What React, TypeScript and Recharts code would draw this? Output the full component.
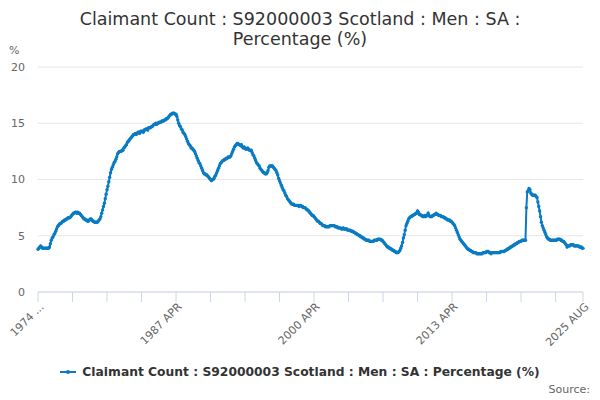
import React from 'react';
import { LineChart, Line, XAxis, YAxis, CartesianGrid } from 'recharts';

// Claimant Count, Scotland, Men, SA, % — monthly, 1974 APR .. 2025 AUG
const START_YEAR = 1974;
const START_MONTH = 3; // APR
const MONTHS = ['JAN', 'FEB', 'MAR', 'APR', 'MAY', 'JUN', 'JUL', 'AUG', 'SEP', 'OCT', 'NOV', 'DEC'];

const values1970s = [
  3.8, 3.9, 4.0, 4.1, 4.0, 3.9, 3.9, 3.9, 3.9, // 1974 APR-DEC
  3.9, 3.9, 3.9, 3.9, 4.0, 4.3, 4.6, 4.8, 4.9, 5.1, 5.2, 5.4, // 1975
  5.6, 5.8, 5.9, 6.0, 6.1, 6.1, 6.2, 6.3, 6.3, 6.4, 6.4, 6.5, // 1976
  6.5, 6.6, 6.6, 6.6, 6.7, 6.8, 6.9, 7.0, 7.0, 7.1, 7.1, 7.0, // 1977
  7.1, 7.0, 7.0, 6.9, 6.8, 6.7, 6.6, 6.5, 6.5, 6.4, 6.4, 6.3, // 1978
  6.3, 6.4, 6.5, 6.5, 6.4, 6.3, 6.3, 6.2, 6.2, 6.2, 6.2, 6.3, // 1979
];

const values1980s = [
  6.4, 6.5, 6.7, 7.0, 7.3, 7.6, 7.9, 8.3, 8.7, 9.1, 9.4, 9.8, // 1980
  10.2, 10.6, 10.9, 11.1, 11.3, 11.5, 11.6, 11.8, 12.0, 12.3, 12.4, 12.5, // 1981
  12.5, 12.5, 12.6, 12.6, 12.8, 12.9, 13.0, 13.1, 13.3, 13.4, 13.5, 13.6, // 1982
  13.7, 13.8, 13.9, 14.0, 14.0, 14.1, 14.0, 14.1, 14.2, 14.2, 14.1, 14.3, // 1983
  14.3, 14.3, 14.2, 14.4, 14.4, 14.5, 14.5, 14.4, 14.6, 14.6, 14.6, 14.7, // 1984
  14.7, 14.8, 14.9, 14.9, 15.0, 14.9, 15.0, 15.0, 15.1, 15.1, 15.1, 15.2, // 1985
  15.2, 15.2, 15.3, 15.3, 15.4, 15.4, 15.5, 15.6, 15.7, 15.8, 15.8, 15.9, // 1986
  15.9, 15.9, 15.8, 15.8, 15.6, 15.3, 15.0, 14.8, 14.7, 14.5, 14.4, 14.2, // 1987
  14.1, 14.0, 13.8, 13.6, 13.4, 13.2, 13.1, 13.0, 12.8, 12.8, 12.7, 12.6, // 1988
  12.5, 12.3, 12.1, 11.9, 11.7, 11.5, 11.4, 11.2, 11.0, 10.8, 10.6, 10.5, // 1989
];

const values1990s = [
  10.5, 10.4, 10.4, 10.3, 10.2, 10.1, 10.0, 9.9, 10.0, 10.0, 10.1, 10.3, // 1990
  10.4, 10.6, 10.8, 11.0, 11.2, 11.4, 11.5, 11.6, 11.7, 11.7, 11.8, 11.8, // 1991
  11.9, 11.9, 12.0, 12.0, 12.0, 12.1, 12.3, 12.5, 12.7, 12.9, 13.0, 13.1, // 1992
  13.2, 13.2, 13.1, 13.1, 13.0, 13.1, 12.9, 12.8, 12.9, 12.8, 12.7, 12.7, // 1993
  12.8, 12.7, 12.6, 12.6, 12.6, 12.4, 12.2, 12.1, 11.9, 11.7, 11.5, 11.4, // 1994
  11.3, 11.2, 11.0, 10.9, 10.8, 10.7, 10.6, 10.6, 10.5, 10.5, 10.6, 10.8, // 1995
  11.1, 11.2, 11.2, 11.2, 11.2, 11.1, 11.0, 10.9, 10.8, 10.6, 10.4, 10.1, // 1996
  9.9, 9.7, 9.5, 9.3, 9.1, 9.0, 8.8, 8.6, 8.5, 8.3, 8.2, 8.1, // 1997
  8.0, 7.9, 7.8, 7.8, 7.8, 7.7, 7.7, 7.7, 7.7, 7.7, 7.6, 7.7, // 1998
  7.7, 7.6, 7.6, 7.5, 7.5, 7.5, 7.4, 7.3, 7.3, 7.2, 7.1, 7.0, // 1999
];

const values2000s = [
  6.9, 6.8, 6.8, 6.7, 6.6, 6.5, 6.4, 6.3, 6.3, 6.2, 6.1, 6.1, // 2000
  6.0, 5.9, 5.9, 5.9, 5.8, 5.8, 5.8, 5.8, 5.8, 5.9, 5.9, 5.9, // 2001
  5.9, 5.9, 5.9, 5.8, 5.8, 5.8, 5.7, 5.7, 5.7, 5.7, 5.6, 5.6, // 2002
  5.7, 5.6, 5.6, 5.6, 5.6, 5.5, 5.5, 5.5, 5.5, 5.4, 5.4, 5.4, // 2003
  5.3, 5.3, 5.2, 5.2, 5.1, 5.1, 5.0, 5.0, 4.9, 4.9, 4.8, 4.8, // 2004
  4.7, 4.7, 4.6, 4.6, 4.6, 4.6, 4.5, 4.5, 4.5, 4.5, 4.5, 4.6, // 2005
  4.6, 4.6, 4.6, 4.7, 4.7, 4.7, 4.7, 4.6, 4.6, 4.5, 4.4, 4.3, // 2006
  4.2, 4.1, 4.0, 4.0, 3.9, 3.9, 3.8, 3.8, 3.7, 3.7, 3.6, 3.6, // 2007
  3.5, 3.5, 3.5, 3.6, 3.7, 3.9, 4.1, 4.4, 4.8, 5.1, 5.5, 5.9, // 2008
  6.1, 6.3, 6.5, 6.6, 6.7, 6.7, 6.8, 6.8, 6.9, 6.9, 7.0, 7.0, // 2009
];

const values2010s = [
  7.2, 7.1, 6.9, 6.9, 6.8, 6.8, 6.7, 6.7, 6.8, 6.7, 6.8, 6.8, // 2010
  7.0, 6.8, 6.7, 6.7, 6.7, 6.8, 6.8, 6.9, 6.9, 7.0, 6.9, 6.9, // 2011
  6.8, 6.8, 6.8, 6.7, 6.7, 6.7, 6.6, 6.6, 6.5, 6.5, 6.4, 6.4, // 2012
  6.4, 6.3, 6.3, 6.2, 6.1, 6.0, 5.9, 5.7, 5.5, 5.3, 5.1, 4.9, // 2013
  4.7, 4.6, 4.5, 4.4, 4.3, 4.2, 4.1, 4.0, 3.9, 3.8, 3.8, 3.7, // 2014
  3.7, 3.6, 3.6, 3.5, 3.5, 3.5, 3.5, 3.4, 3.4, 3.4, 3.4, 3.4, // 2015
  3.4, 3.4, 3.5, 3.5, 3.5, 3.5, 3.6, 3.6, 3.6, 3.5, 3.5, 3.4, // 2016
  3.5, 3.5, 3.5, 3.5, 3.5, 3.5, 3.5, 3.5, 3.5, 3.5, 3.6, 3.6, // 2017
  3.6, 3.6, 3.6, 3.7, 3.7, 3.8, 3.8, 3.9, 3.9, 4.0, 4.0, 4.1, // 2018
  4.1, 4.2, 4.2, 4.3, 4.3, 4.4, 4.4, 4.5, 4.5, 4.5, 4.6, 4.6, // 2019
];

const values2020s = [
  4.6, 4.6, 4.6, 7.5, 8.9, 9.0, 9.2, 9.1, 8.8, 8.7, 8.6, 8.6, // 2020
  8.6, 8.6, 8.5, 8.4, 8.0, 7.6, 7.2, 6.7, 6.2, 5.9, 5.7, 5.5, // 2021
  5.3, 5.1, 4.9, 4.8, 4.7, 4.7, 4.6, 4.6, 4.6, 4.6, 4.6, 4.6, // 2022
  4.6, 4.6, 4.7, 4.7, 4.7, 4.7, 4.6, 4.6, 4.5, 4.5, 4.4, 4.3, // 2023
  4.2, 4.0, 4.1, 4.1, 4.1, 4.2, 4.2, 4.2, 4.2, 4.1, 4.1, 4.1, // 2024
  4.1, 4.1, 4.1, 4.0, 4.0, 4.0, 3.9, 3.9, // 2025 JAN-AUG
];

const values = [...values1970s, ...values1980s, ...values1990s, ...values2000s, ...values2010s, ...values2020s];

const labels = values.map((_, i) => {
  const m = START_MONTH + i;
  return `${START_YEAR + Math.floor(m / 12)} ${MONTHS[m % 12]}`;
});

const data = values.map((v, i) => ({ i, label: labels[i], value: v }));

const LAST = values.length - 1;
// tick every 39 months, label every 4th tick, plus the last month
const xTicks = [0, 39, 78, 117, 156, 195, 234, 273, 312, 351, 390, 429, 468, 507, 546, 585, LAST];
const labelledTicks = [0, 156, 312, 468, LAST];
const yTicks = [0, 5, 10, 15, 20];

const SERIES_NAME = 'Claimant Count : S92000003 Scotland : Men : SA : Percentage (%)';
const BLUE = '#0a7bc2';
const FONT = '"DejaVu Sans", Verdana, sans-serif';

const XTick = (props: any) => {
  const { x, y, payload } = props;
  const idx = payload.value;
  if (!labelledTicks.includes(idx)) return null;
  const text = idx === 0 ? `${labels[idx].slice(0, 4)} ...` : labels[idx];
  const tx = x + 1;
  const ty = y - 2;
  return (
    <text
      x={tx}
      y={ty}
      textAnchor="end"
      fill="#666"
      fontSize={11}
      fontFamily={FONT}
      transform={`rotate(-45, ${tx}, ${ty})`}
      dy="0.7em"
    >
      {text}
    </text>
  );
};

export default function App() {
  return (
    <div style={{ position: 'absolute', left: 0, top: 0, width: 600, height: 400, background: '#fff', fontFamily: FONT }}>
      <div style={{ position: 'absolute', top: 9, left: 0, width: 600, textAlign: 'center', fontSize: 17.5, lineHeight: '20px', color: '#333' }}>
        Claimant Count : S92000003 Scotland : Men : SA :<br />Percentage (%)
      </div>
      <div style={{ position: 'absolute', top: 44, left: 9, fontSize: 11, color: '#666' }}>%</div>

      <LineChart width={600} height={400} data={data} margin={{ top: 67, right: 17, bottom: 78, left: 0 }}>
        <CartesianGrid vertical={false} stroke="#e6e6e6" />
        <XAxis
          dataKey="i"
          type="number"
          domain={[0, LAST]}
          ticks={xTicks}
          interval={0}
          tick={<XTick />}
          tickSize={10}
          height={30}
          axisLine={{ stroke: '#ccd6eb' }}
          tickLine={{ stroke: '#ccd6eb' }}
        />
        <YAxis
          domain={[0, 20]}
          ticks={yTicks}
          width={38}
          axisLine={false}
          tickLine={false}
          tickSize={0}
          tickMargin={13}
          tick={{ fill: '#666', fontSize: 11, fontFamily: FONT }}
        />
        <Line
          type="linear"
          dataKey="value"
          name={SERIES_NAME}
          stroke={BLUE}
          strokeWidth={2}
          dot={{ r: 1.7, fill: BLUE, stroke: 'none' }}
          isAnimationActive={false}
        />
      </LineChart>

      <div style={{ position: 'absolute', top: 365, left: 0, width: 600, display: 'flex', justifyContent: 'center', alignItems: 'center' }}>
        <svg width={16} height={10} style={{ marginRight: 6 }}>
          <line x1={0} y1={5} x2={16} y2={5} stroke={BLUE} strokeWidth={2} />
          <circle cx={8} cy={5} r={2} fill={BLUE} />
        </svg>
        <span style={{ fontSize: 12.3, fontWeight: 'bold', color: '#333' }}>{SERIES_NAME}</span>
      </div>
      <div style={{ position: 'absolute', top: 383, right: 10, fontSize: 11, color: '#666' }}>Source:</div>
    </div>
  );
}
